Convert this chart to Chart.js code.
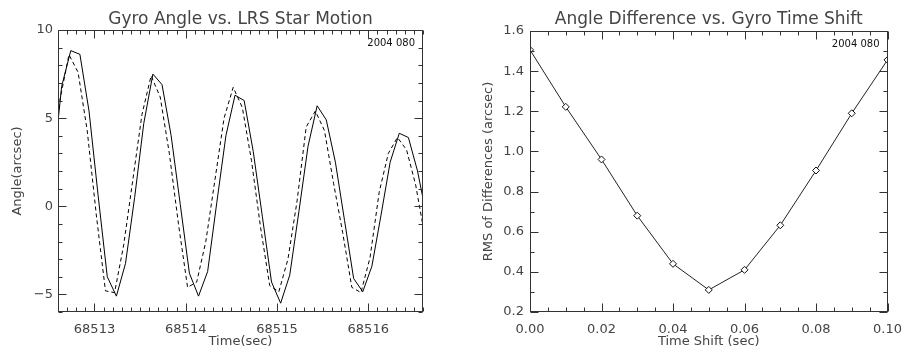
<!DOCTYPE html>
<html><head><meta charset="utf-8">
<script src="https://cdn.jsdelivr.net/npm/chart.js@4.4.1/dist/chart.umd.min.js"></script>
<style>
html,body{margin:0;padding:0;background:#fff;}
#wrap{position:relative;width:912px;height:353px;overflow:hidden;}
.box{position:absolute;top:0;width:456px;height:353px;}
</style></head><body>
<div id="wrap">
<div class="box" style="left:0"><canvas id="c1" width="456" height="353"></canvas></div>
<div class="box" style="left:456px"><canvas id="c2" width="456" height="353"></canvas></div>
</div>
<script>
// ---------- Left chart data ----------
const gyroTimes = [68512.54,68512.64,68512.74,68512.84,68512.94,68513.04,68513.14,68513.24,68513.34,68513.44,
  68513.54,68513.64,68513.74,68513.84,68513.94,68514.04,68514.14,68514.24,68514.34,68514.44,
  68514.54,68514.64,68514.74,68514.84,68514.94,68515.04,68515.14,68515.24,68515.34,68515.44,
  68515.54,68515.64,68515.74,68515.84,68515.94,68516.04,68516.14,68516.24,68516.34,68516.44,
  68516.54,68516.64];
const gyroAngle = [1.8,6.8,8.83,8.62,5.4,0.6,-4.0,-5.1,-3.24,0.5,
  4.7,7.5,6.9,4.0,0.1,-3.8,-5.1,-3.7,0.2,4.0,
  6.3,6.0,3.1,-0.6,-4.3,-5.5,-3.9,-0.3,3.4,5.7,
  4.9,2.5,-0.8,-4.1,-4.85,-3.4,-0.5,2.5,4.14,3.9,
  2.0,-0.6];
const starTimes = [68512.52,68512.62,68512.72,68512.82,68512.92,68513.02,68513.12,68513.22,68513.32,68513.42,
  68513.52,68513.62,68513.72,68513.82,68513.92,68514.02,68514.12,68514.22,68514.32,68514.42,
  68514.52,68514.62,68514.72,68514.82,68514.92,68515.02,68515.12,68515.22,68515.32,68515.42,
  68515.52,68515.62,68515.72,68515.82,68515.92,68516.02,68516.12,68516.22,68516.32,68516.42,
  68516.52,68516.62];
const starAngle = [2.0,6.0,8.6,7.6,4.3,-0.5,-4.8,-4.9,-2.2,1.5,
  5.2,7.4,6.2,3.0,-1.0,-4.6,-4.3,-2.0,1.5,5.0,
  6.75,5.6,2.6,-1.2,-4.5,-4.85,-3.0,0.3,4.5,5.4,
  4.3,1.3,-1.5,-4.6,-4.9,-2.9,0.8,3.0,3.9,3.2,
  1.2,-1.7];
const leftXTicks = [68513,68514,68515,68516];
const leftYTicks = [-5,0,5,10];

// ---------- Right chart data ----------
const timeShift = [0.00,0.01,0.02,0.03,0.04,0.05,0.06,0.07,0.08,0.09,0.10];
const rmsDiff   = [1.506,1.222,0.960,0.680,0.440,0.310,0.410,0.632,0.905,1.190,1.456];
const rightXTicks = [0.00,0.02,0.04,0.06,0.08,0.10];
const rightYTicks = [0.2,0.4,0.6,0.8,1.0,1.2,1.4,1.6];

const FONT = '"DejaVu Sans", sans-serif';
const TXT = '#444';

const boxTicks = {
  id: 'boxTicks',
  afterDatasetsDraw(chart, args, o) {
    const {ctx, chartArea: a} = chart;
    const xs = chart.scales.x, ys = chart.scales.y;
    const L = Math.round(a.left) + 0.5, R = Math.round(a.right) - 0.5;
    const T = Math.round(a.top) + 0.5, B = Math.round(a.bottom) - 0.5;
    ctx.save();
    ctx.strokeStyle = '#333';
    ctx.lineWidth = 1;
    ctx.strokeRect(L, T, R - L, B - T);
    ctx.beginPath();
    const nx = Math.round((xs.max - xs.min) / o.xStep);
    for (let i = 0; i <= nx; i++) {
      const v = xs.min + i * o.xStep;
      const major = o.xMajor.some(m => Math.abs(m - v) < o.xStep / 10);
      const len = major ? 8 : 4;
      const px = Math.round(xs.getPixelForValue(v)) + 0.5;
      ctx.moveTo(px, B); ctx.lineTo(px, B - len);
      ctx.moveTo(px, T); ctx.lineTo(px, T + len);
    }
    const ny = Math.round((ys.max - ys.min) / o.yStep);
    for (let i = 0; i <= ny; i++) {
      const v = ys.min + i * o.yStep;
      const major = o.yMajor.some(m => Math.abs(m - v) < o.yStep / 10);
      const len = major ? 8 : 4;
      const py = Math.round(ys.getPixelForValue(v)) + 0.5;
      ctx.moveTo(L, py); ctx.lineTo(L + len, py);
      ctx.moveTo(R, py); ctx.lineTo(R - len, py);
    }
    ctx.stroke();
    // date stamp
    ctx.fillStyle = '#111';
    ctx.font = '10px ' + FONT;
    ctx.textAlign = 'right';
    ctx.textBaseline = 'alphabetic';
    ctx.fillText(o.stamp, a.right - 8, a.top + 16);
    // plot title centred over plot box
    ctx.fillStyle = TXT;
    ctx.font = '17px ' + FONT;
    ctx.textAlign = 'center';
    ctx.fillText(o.title, (a.left + a.right) / 2, 24);
    ctx.restore();
  }
};

function axisCommon(pos, tickList, fmt, size, pad, titleText, titlePad) {
  return {
    type: 'linear',
    position: pos,
    afterBuildTicks: s => { s.ticks = tickList.map(v => ({value: v})); },
    afterFit: s => { if (pos === 'bottom') s.height = size; else s.width = size; },
    grid: {display: false, drawTicks: false},
    border: {display: false},
    ticks: {padding: pad, color: TXT, font: {family: FONT, size: 13}, callback: fmt,
            maxRotation: 0, autoSkip: false},
    title: {display: true, text: titleText, color: TXT, font: {family: FONT, size: 13},
            padding: titlePad}
  };
}

Chart.defaults.animation = false;

new Chart(document.getElementById('c1'), {
  type: 'line',
  data: {
    datasets: [
      {data: gyroTimes.map((t, i) => ({x: t, y: gyroAngle[i]})), borderColor: '#000',
       borderWidth: 1, pointRadius: 0, tension: 0, fill: false},
      {data: starTimes.map((t, i) => ({x: t, y: starAngle[i]})), borderColor: '#000',
       borderWidth: 1, borderDash: [4, 3], pointRadius: 0, tension: 0, fill: false}
    ]
  },
  options: {
    responsive: false,
    devicePixelRatio: 1,
    layout: {autoPadding: false, padding: {left: 0, right: 33, top: 30, bottom: 0}},
    plugins: {
      legend: {display: false},
      tooltip: {enabled: false},
      title: {display: false},
      boxTicks: {xStep: 0.1, yStep: 1, xMajor: leftXTicks, yMajor: leftYTicks, stamp: '2004 080',
                 title: 'Gyro Angle vs. LRS Star Motion'}
    },
    scales: {
      x: Object.assign(axisCommon('bottom', leftXTicks, v => String(v), 41, 10, 'Time(sec)', {bottom: 4}),
                       {min: 68512.6, max: 68516.6}),
      y: Object.assign(axisCommon('left', leftYTicks, v => String(v).replace('-', '\u2212'), 58, 5, 'Angle(arcsec)', {top: 10}),
                       {min: -6, max: 10})
    }
  },
  plugins: [boxTicks]
});

new Chart(document.getElementById('c2'), {
  type: 'line',
  data: {
    datasets: [
      {data: timeShift.map((t, i) => ({x: t, y: rmsDiff[i]})), borderColor: '#222',
       borderWidth: 1, pointStyle: 'rectRot', pointRadius: 3.5, pointBorderColor: '#111',
       pointBackgroundColor: '#fff', pointBorderWidth: 1, tension: 0, fill: false}
    ]
  },
  options: {
    responsive: false,
    devicePixelRatio: 1,
    layout: {autoPadding: false, padding: {left: 0, right: 16, top: 31, bottom: 0}},
    plugins: {
      legend: {display: false},
      tooltip: {enabled: false},
      title: {display: false},
      boxTicks: {xStep: 0.005, yStep: 0.1, xMajor: rightXTicks, yMajor: rightYTicks, stamp: '2004 080',
                 title: 'Angle Difference vs. Gyro Time Shift'}
    },
    scales: {
      x: Object.assign(axisCommon('bottom', rightXTicks, v => Number(v).toFixed(2), 41, 10, 'Time Shift (sec)', {bottom: 4}),
                       {min: 0, max: 0.1}),
      y: Object.assign(axisCommon('left', rightYTicks, v => Number(v).toFixed(1), 74, 6, 'RMS of Differences (arcsec)', {top: 25}),
                       {min: 0.2, max: 1.6})
    }
  },
  plugins: [boxTicks]
});
</script>
</body></html>
